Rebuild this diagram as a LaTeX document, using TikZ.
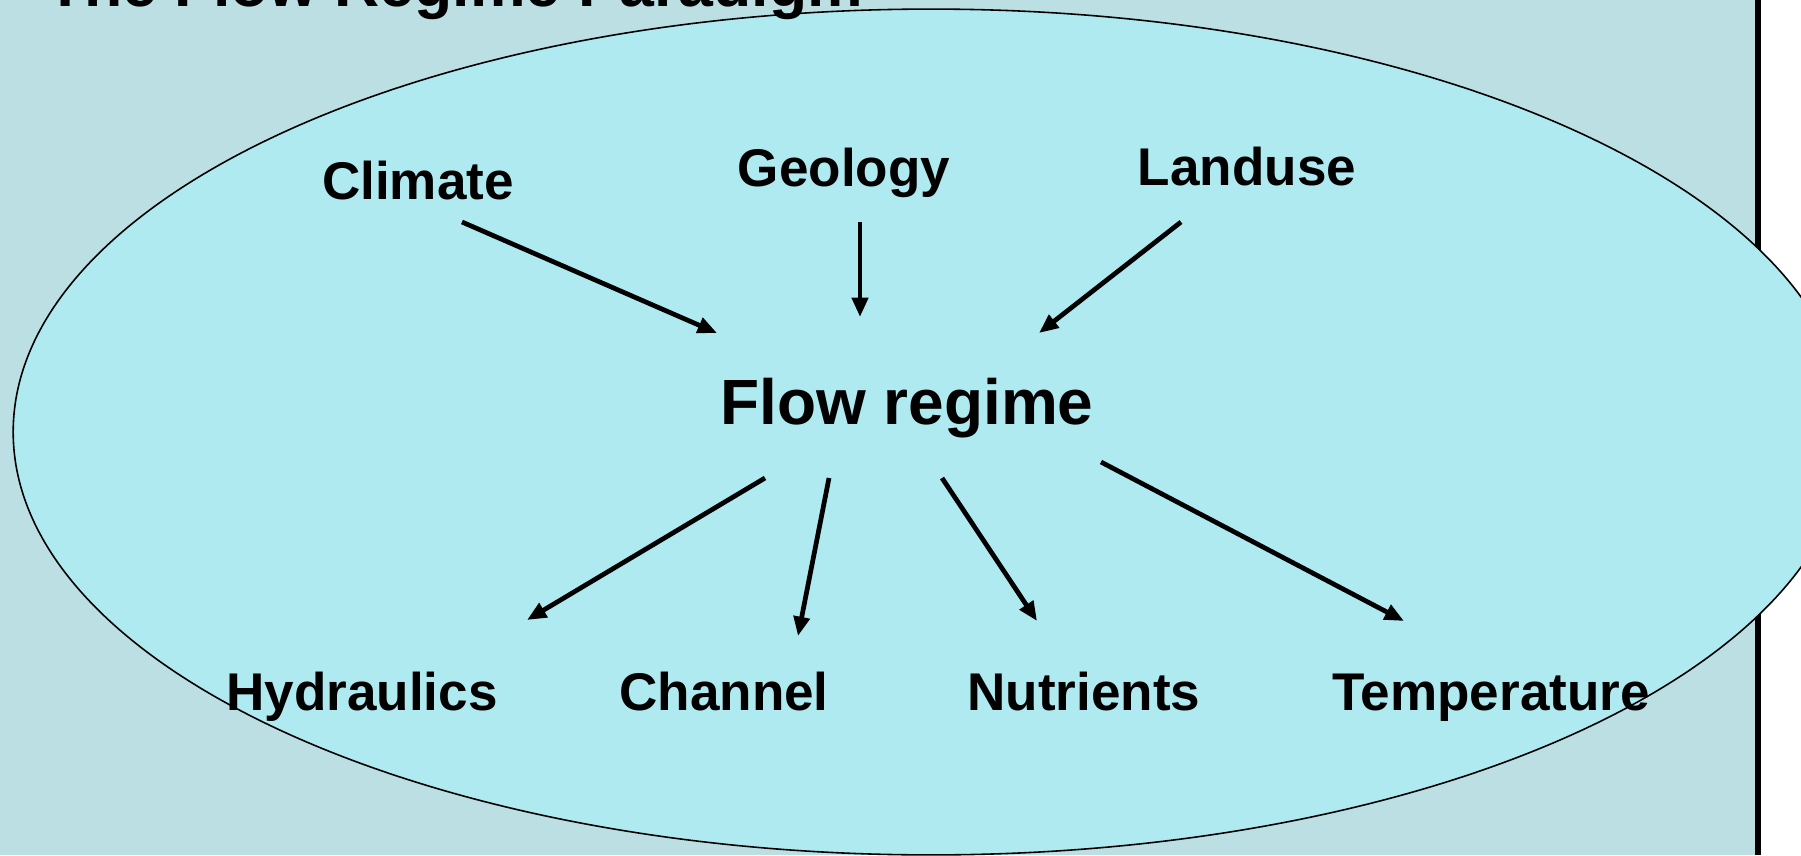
\documentclass[tikz,border=0pt]{standalone}
\usepackage{fontspec}
\setmainfont{Liberation Sans}
\usetikzlibrary{arrows.meta}
\definecolor{bgcol}{RGB}{187,223,227}
\definecolor{ellcol}{RGB}{174,234,240}
\tikzset{
  lbl/.style={inner sep=0pt, anchor=base, font=\fontsize{30.2pt}{32pt}\selectfont\bfseries},
  big/.style={inner sep=0pt, anchor=base, font=\fontsize{36.4pt}{40pt}\selectfont\bfseries},
  arr/.style={line width=2.7pt, -{Triangle[length=11pt,width=9pt]}},
}
\begin{document}
\begin{tikzpicture}[x=0.02cm,y=-0.02cm]
\useasboundingbox (0,0) rectangle (1801,855);
\clip (0,0) rectangle (1801,855);
\fill[bgcol] (0,0) rectangle (1758,855);
\fill[white] (1758,0) rectangle (1801,855);
\fill[black] (1755,0) rectangle (1761,855);
\draw[line width=0.9pt, fill=ellcol] (931,432) ellipse [x radius=18.36cm, y radius=8.46cm];
\node[inner sep=0pt, anchor=base west, font=\fontsize{35.6pt}{40pt}\selectfont\bfseries] (title) at (46,7) {The Flow Regime Paradigm};
\node[lbl] (climate) at (418,199) {Climate};
\node[lbl] (geology) at (844,186) {Geology};
\node[lbl] (landuse) at (1247,185) {Landuse};
\node[big] (flow) at (907,424) {Flow regime};
\node[lbl] (hyd) at (362,710) {Hydraulics};
\node[lbl] (chan) at (724,710) {Channel};
\node[lbl] (nut) at (1084,710) {Nutrients};
\node[lbl] (temp) at (1491,710) {Temperature};
\coordinate (a1s) at (462,222); \coordinate (a1e) at (717,333);
\coordinate (a2s) at (860,222); \coordinate (a2e) at (860,317);
\coordinate (a3s) at (1181,222); \coordinate (a3e) at (1039,333);
\coordinate (b1s) at (765,478); \coordinate (b1e) at (527,620);
\coordinate (b2s) at (829,478); \coordinate (b2e) at (798,636);
\coordinate (b3s) at (942,478); \coordinate (b3e) at (1037,621);
\coordinate (b4s) at (1101,462); \coordinate (b4e) at (1404,621);
\draw[arr] (a1s) -- (a1e);
\draw[arr] (a2s) -- (a2e);
\draw[arr] (a3s) -- (a3e);
\draw[arr] (b1s) -- (b1e);
\draw[arr] (b2s) -- (b2e);
\draw[arr] (b3s) -- (b3e);
\draw[arr] (b4s) -- (b4e);
\end{tikzpicture}
\end{document}
